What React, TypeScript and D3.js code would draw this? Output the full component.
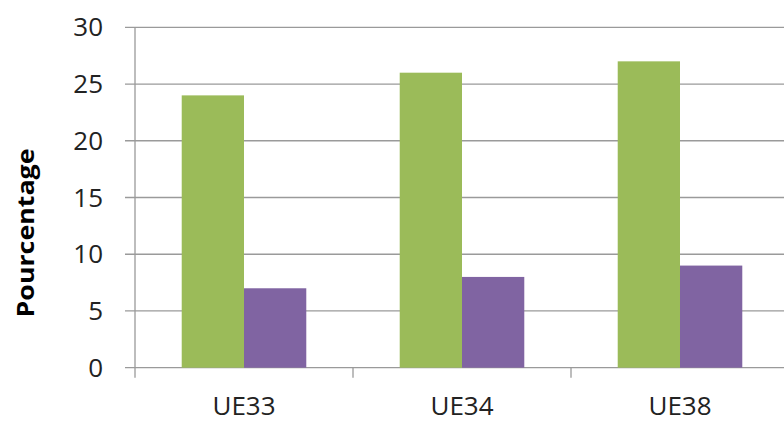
import React from "react";
import * as d3 from "d3";

const categories = ["UE33", "UE34", "UE38"];
const series = ["A", "B"];
const seriesA = [24, 26, 27];
const seriesB = [7, 8, 9];
const colors = ["#9BBB59", "#8064A2"];
const yTicks = [0, 5, 10, 15, 20, 25, 30];

export default function App() {
  const W = 784, H = 423;
  const left = 135, right = 789, top = 27.3, bottom = 367.7;
  const x = d3.scaleBand().domain(categories).range([left, right]).paddingInner(0).paddingOuter(0);
  const y = d3.scaleLinear().domain([0, 30]).range([bottom, top]);
  const bw = x.bandwidth() / 3.5;
  const values = [seriesA, seriesB];
  const grid = "#9a9a9a";
  const font = "'Open Sans', 'Liberation Sans', sans-serif";
  return (
    <svg width={W} height={H} style={{ position: "absolute", left: 0, top: 0, background: "#fff" }}>
      {yTicks.map((t) => (
        <g key={t}>
          <line x1={left - 10} x2={W} y1={y(t)} y2={y(t)} stroke={grid} strokeWidth={1.3} />
          <text x={103} y={y(t)} dy="0.35em" textAnchor="end" fontSize={26} fontFamily={font} fill="#222">{t}</text>
        </g>
      ))}
      {values.map((vals, si) =>
        vals.map((v, ci) => {
          const cx = x(categories[ci])! + x.bandwidth() / 2;
          const x0 = cx - bw + si * bw;
          return <rect key={series[si] + ci} x={x0} y={y(v)} width={bw} height={y(0) - y(v)} fill={colors[si]} />;
        })
      )}
      <line x1={left} x2={left} y1={top} y2={bottom + 10} stroke={grid} strokeWidth={1.3} />
      {categories.map((c, i) => (
        <g key={c}>
          {i > 0 && <line x1={x(c)!} x2={x(c)!} y1={bottom} y2={bottom + 10} stroke={grid} strokeWidth={1.3} />}
          <text x={x(c)! + x.bandwidth() / 2} y={415} textAnchor="middle" fontSize={26} fontFamily={font} fill="#222">{c}</text>
        </g>
      ))}
      <text transform={`translate(34,233) rotate(-90)`} textAnchor="middle" fontSize={24} fontWeight="bold" fontFamily={font} fill="#000" textLength={169} lengthAdjust="spacingAndGlyphs">Pourcentage</text>
    </svg>
  );
}
